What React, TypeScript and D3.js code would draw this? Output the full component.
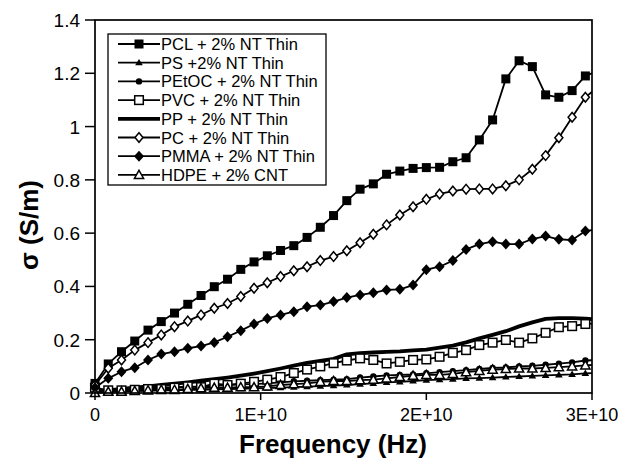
import React from "react";
import * as d3 from "d3";

// Frequency (GHz) of each measured point
const freqGHz = [0, 0.8, 1.6, 2.4, 3.2, 4.0, 4.8, 5.6, 6.4, 7.2, 8.0, 8.8, 9.6, 10.4, 11.2, 12.0, 12.8, 13.6, 14.4, 15.2, 16.0, 16.8, 17.6, 18.4, 19.2, 20.0, 20.8, 21.6, 22.4, 23.2, 24.0, 24.8, 25.6, 26.4, 27.2, 28.0, 28.8, 29.6, 30.4];

const pcl = [0.036, 0.109, 0.155, 0.195, 0.236, 0.268, 0.300, 0.333, 0.366, 0.399, 0.427, 0.464, 0.492, 0.515, 0.535, 0.553, 0.584, 0.622, 0.666, 0.722, 0.765, 0.785, 0.821, 0.833, 0.843, 0.846, 0.847, 0.868, 0.883, 0.950, 1.025, 1.179, 1.247, 1.225, 1.119, 1.110, 1.135, 1.190, 1.21];
const ps = [0.005, 0.005, 0.006, 0.008, 0.008, 0.01, 0.01, 0.012, 0.012, 0.014, 0.015, 0.016, 0.017, 0.018, 0.02, 0.022, 0.024, 0.026, 0.028, 0.03, 0.033, 0.036, 0.04, 0.042, 0.045, 0.048, 0.05, 0.052, 0.055, 0.056, 0.058, 0.06, 0.062, 0.064, 0.066, 0.068, 0.07, 0.074, 0.075];
const petoc = [0.01, 0.012, 0.015, 0.017, 0.018, 0.02, 0.022, 0.022, 0.025, 0.027, 0.03, 0.032, 0.033, 0.036, 0.04, 0.044, 0.046, 0.048, 0.05, 0.052, 0.058, 0.062, 0.066, 0.068, 0.07, 0.074, 0.078, 0.082, 0.086, 0.09, 0.094, 0.096, 0.1, 0.102, 0.106, 0.11, 0.115, 0.122, 0.124];
const pvc = [0.02, 0.01, 0.01, 0.012, 0.015, 0.015, 0.02, 0.025, 0.022, 0.035, 0.03, 0.035, 0.042, 0.05, 0.06, 0.075, 0.088, 0.1, 0.112, 0.122, 0.13, 0.124, 0.111, 0.117, 0.124, 0.126, 0.136, 0.151, 0.161, 0.18, 0.189, 0.199, 0.189, 0.205, 0.226, 0.247, 0.251, 0.259, 0.262];
const pp = [0.005, 0.01, 0.015, 0.02, 0.025, 0.03, 0.035, 0.04, 0.046, 0.052, 0.058, 0.065, 0.073, 0.082, 0.092, 0.103, 0.113, 0.121, 0.128, 0.145, 0.15, 0.152, 0.154, 0.156, 0.16, 0.163, 0.17, 0.178, 0.19, 0.205, 0.218, 0.232, 0.25, 0.265, 0.278, 0.281, 0.281, 0.279, 0.275];
const pc = [0.03, 0.093, 0.124, 0.161, 0.189, 0.218, 0.249, 0.270, 0.293, 0.318, 0.336, 0.362, 0.393, 0.414, 0.437, 0.459, 0.474, 0.497, 0.512, 0.534, 0.564, 0.596, 0.631, 0.668, 0.699, 0.727, 0.747, 0.758, 0.765, 0.766, 0.766, 0.778, 0.800, 0.840, 0.891, 0.958, 1.035, 1.110, 1.15];
const pmma = [0.02, 0.055, 0.08, 0.095, 0.124, 0.146, 0.155, 0.168, 0.176, 0.19, 0.211, 0.234, 0.259, 0.280, 0.293, 0.305, 0.324, 0.330, 0.343, 0.358, 0.368, 0.376, 0.387, 0.389, 0.405, 0.463, 0.474, 0.497, 0.539, 0.559, 0.568, 0.559, 0.559, 0.578, 0.589, 0.577, 0.574, 0.608, 0.615];
const hdpe = [0.0, 0.005, 0.005, 0.008, 0.01, 0.012, 0.012, 0.015, 0.018, 0.02, 0.02, 0.022, 0.022, 0.025, 0.03, 0.033, 0.036, 0.042, 0.045, 0.045, 0.048, 0.05, 0.055, 0.06, 0.065, 0.068, 0.068, 0.072, 0.078, 0.083, 0.088, 0.09, 0.092, 0.092, 0.094, 0.097, 0.1, 0.104, 0.106];

const seriesNames = ["PCL + 2% NT Thin", "PS +2% NT Thin", "PEtOC + 2% NT Thin", "PVC + 2% NT Thin", "PP + 2% NT Thin", "PC + 2% NT Thin", "PMMA + 2% NT Thin", "HDPE + 2% CNT"];
const seriesValues = [pcl, ps, petoc, pvc, pp, pc, pmma, hdpe];
const seriesMarkers = ["fsquare", "ftriangle", "fcircle", "osquare", "none", "odiamond", "fdiamond", "otriangle"];

const yTicks = [0, 0.2, 0.4, 0.6, 0.8, 1, 1.2, 1.4];
const xTicks = [0, 1e10, 2e10, 3e10];
const xTickLabels = ["0", "1E+10", "2E+10", "3E+10"];

const FONT = "'Liberation Sans', Arial, Helvetica, sans-serif";

const L = 95, R = 592, T = 20, B = 393;

function Marker({ kind, x, y }: { kind: string; x: number; y: number }) {
  const sw = 1.5;
  switch (kind) {
    case "fsquare":
      return <rect x={x - 4.5} y={y - 4.5} width={9} height={9} fill="#000" />;
    case "osquare":
      return <rect x={x - 4.3} y={y - 4.3} width={8.6} height={8.6} fill="#fff" stroke="#000" strokeWidth={sw} />;
    case "ftriangle":
      return <path d={`M${x},${y - 3.8}L${x + 3.8},${y + 2.6}L${x - 3.8},${y + 2.6}Z`} fill="#000" />;
    case "otriangle":
      return <path d={`M${x},${y - 4.6}L${x + 4.6},${y + 3.6}L${x - 4.6},${y + 3.6}Z`} fill="#fff" stroke="#000" strokeWidth={sw} />;
    case "fcircle":
      return <circle cx={x} cy={y} r={3.2} fill="#000" />;
    case "odiamond":
      return <path d={`M${x},${y - 4.8}L${x + 4},${y}L${x},${y + 4.8}L${x - 4},${y}Z`} fill="#fff" stroke="#000" strokeWidth={sw} />;
    case "fdiamond":
      return <path d={`M${x},${y - 5.5}L${x + 5},${y}L${x},${y + 5.5}L${x - 5},${y}Z`} fill="#000" />;
    default:
      return null;
  }
}

export default function App() {
  const x = d3.scaleLinear().domain([0, 3e10]).range([L, R]);
  const y = d3.scaleLinear().domain([0, 1.4]).range([B, T]);
  const freq = freqGHz.map((f) => f * 1e9);

  const line = d3
    .line<number>()
    .x((_, i) => x(freq[i]))
    .y((d) => y(d));

  const legendTop = 44;
  const legendStep = 18.7;

  return (
    <svg width={622} height={466} style={{ position: "absolute", left: 0, top: 0, background: "#fff" }} fontFamily={FONT}>
      <defs>
        <clipPath id="plotclip">
          <rect x={L - 10} y={T} width={R - L + 10} height={B - T + 10} />
        </clipPath>
      </defs>
      <rect x={0} y={0} width={622} height={466} fill="#fff" />

      {/* series */}
      <g clipPath="url(#plotclip)">
        {seriesValues.map((vals, si) => (
          <path
            key={"l" + si}
            d={line(vals) || ""}
            fill="none"
            stroke="#000"
            strokeWidth={seriesMarkers[si] === "none" ? 3.8 : 1.8}
            strokeLinejoin="round"
          />
        ))}
      </g>
      {seriesValues.map((vals, si) => (
        <g key={"m" + si}>
          {vals.map((v, i) =>
            freq[i] <= 3e10 ? <Marker key={i} kind={seriesMarkers[si]} x={x(freq[i])} y={y(v)} /> : null
          )}
        </g>
      ))}

      {/* frame */}
      <rect x={L} y={T} width={R - L} height={B - T} fill="none" stroke="#000" strokeWidth={1.7} />

      {/* y axis ticks */}
      {yTicks.map((t) => (
        <g key={"yt" + t}>
          <line x1={L - 10} x2={L} y1={y(t)} y2={y(t)} stroke="#000" strokeWidth={1.5} />
          <text x={L - 15} y={y(t) + 7} textAnchor="end" fontSize={19} fill="#000">
            {String(t)}
          </text>
        </g>
      ))}
      {/* x axis ticks */}
      {xTicks.map((t, i) => (
        <g key={"xt" + t}>
          <line x1={x(t)} x2={x(t)} y1={B} y2={B + 7} stroke="#000" strokeWidth={1.5} />
          <text x={x(t)} y={B + 28} textAnchor="middle" fontSize={18} fill="#000">
            {xTickLabels[i]}
          </text>
        </g>
      ))}

      {/* axis titles */}
      <text x={333} y={453} textAnchor="middle" fontSize={26} fontWeight="bold" fill="#000">
        Frequency (Hz)
      </text>
      <text
        transform={`translate(38,225) rotate(-90)`}
        textAnchor="middle"
        fontSize={26}
        fontWeight="bold"
        fill="#000"
      >
        σ (S/m)
      </text>

      {/* legend */}
      <rect x={108} y={34} width={218} height={151} fill="#fff" stroke="#000" strokeWidth={1.3} />
      {seriesNames.map((name, i) => {
        const cy = legendTop + i * legendStep;
        return (
          <g key={"lg" + i}>
            <line
              x1={118}
              x2={160}
              y1={cy}
              y2={cy}
              stroke="#000"
              strokeWidth={seriesMarkers[i] === "none" ? 3.8 : 1.8}
            />
            <Marker kind={seriesMarkers[i]} x={139} y={cy} />
            <text x={161} y={cy + 6} fontSize={16.5} fill="#000">
              {name}
            </text>
          </g>
        );
      })}
    </svg>
  );
}
